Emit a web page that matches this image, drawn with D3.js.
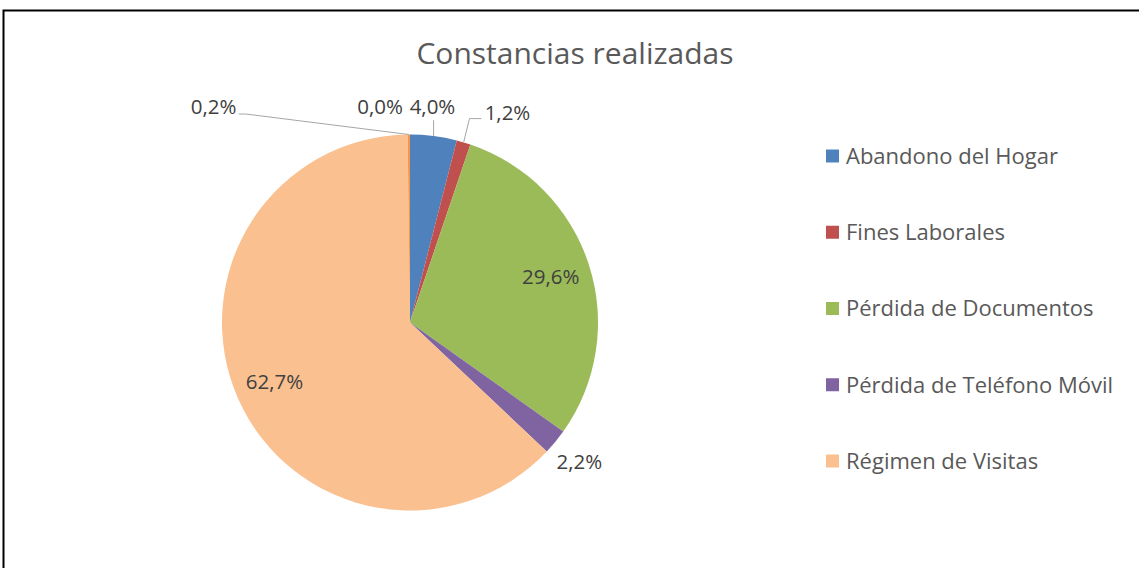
<!DOCTYPE html>
<html>
<head>
<meta charset="utf-8">
<script src="https://cdn.jsdelivr.net/npm/d3@7"></script>
<style>
  html, body { margin: 0; padding: 0; background: #fff; }
  svg { display: block; font-family: "Open Sans", "Noto Sans", sans-serif; }
</style>
</head>
<body>
<svg id="chart" width="1139" height="568"></svg>
<script>
// ---- data ----
const title = "Constancias realizadas";
const categories = ["", "Abandono del Hogar", "Fines Laborales", "Pérdida de Documentos",
                    "Pérdida de Teléfono Móvil", "Régimen de Visitas", " "];
const values = [0.0, 4.0, 1.2, 29.6, 2.2, 62.7, 0.2];
const valueLabels = ["0,0%", "4,0%", "1,2%", "29,6%", "2,2%", "62,7%", "0,2%"];
const legendCategories = ["Abandono del Hogar", "Fines Laborales", "Pérdida de Documentos",
                          "Pérdida de Teléfono Móvil", "Régimen de Visitas"];
const colors = ["#4F81BD", "#4F81BD", "#C0504D", "#9BBB59", "#8064A2", "#FAC08F", "#F79646"];

// ---- layout ----
const svg = d3.select("#chart");
const W = 1139, H = 568;
const cx = 410, cy = 322.5, R = 188;

svg.append("rect").attr("x", 0).attr("y", 0).attr("width", W).attr("height", H).attr("fill", "#fff");
svg.append("rect").attr("x", 3.5).attr("y", 10.5).attr("width", W + 20).attr("height", H + 20)
  .attr("fill", "none").attr("stroke", "#000").attr("stroke-width", 2);

svg.append("text").attr("x", 575).attr("y", 64).attr("text-anchor", "middle")
  .attr("font-size", 30).attr("fill", "#595959").text(title);

const data = categories.map((c, i) => ({ name: c, value: values[i], label: valueLabels[i], color: colors[i] }));
const pie = d3.pie().sort(null).value(d => d.value);
const arcs = pie(data);
const arc = d3.arc().innerRadius(0).outerRadius(R);

const g = svg.append("g").attr("transform", `translate(${cx},${cy})`);
g.selectAll("path.slice").data(arcs).join("path")
  .attr("class", "slice")
  .attr("d", arc)
  .attr("fill", d => d.data.color)
  .attr("stroke", "none");

// label placement: inside for large slices, outside for small ones
const mid = d => (d.startAngle + d.endAngle) / 2;
const pt = (a, r) => [r * Math.sin(a), -r * Math.cos(a)];
// nudges (layout only) for crowded outside labels, by index
const nudge = { 0: [-30, 3.5], 1: [-5, 2], 2: [35, 0], 4: [0, 0], 6: [-195, 3.5] };

const labelG = g.append("g");
arcs.forEach((d, i) => {
  const a = mid(d);
  const frac = d.data.value / d3.sum(values);
  let x, y;
  const inside = frac > 0.1;
  if (inside) {
    [x, y] = pt(a, 148);
  } else {
    [x, y] = pt(a, 219);
    const n = nudge[i] || [0, 0];
    x += n[0]; y += n[1];
  }
  labelG.append("text").attr("x", x).attr("y", y).attr("dy", "0.35em")
    .attr("text-anchor", "middle").attr("font-size", 20.5).attr("fill", "#404040")
    .text(d.data.label);

  // leader lines
  const [ax, ay] = pt(a, R);
  if (i === 1) {
    labelG.append("path").attr("d", `M${ax},${ay}L${ax},${y + 13}`)
      .attr("stroke", "#A6A6A6").attr("fill", "none");
  } else if (i === 2) {
    const lx = x - 26, ly = y + 6;
    labelG.append("path").attr("d", `M${ax},${ay}L${lx - 12},${ly}L${lx},${ly}`)
      .attr("stroke", "#A6A6A6").attr("fill", "none");
  } else if (i === 6) {
    const lx = x + 25, ly = y + 7;
    labelG.append("path").attr("d", `M${ax},${ay}L${lx + 7},${ly}L${lx},${ly}`)
      .attr("stroke", "#A6A6A6").attr("fill", "none");
  }
});

// legend
const legendY = d3.scalePoint().domain(legendCategories).range([156, 461]);
const lg = svg.append("g");
legendCategories.forEach(name => {
  const d = data.find(e => e.name === name);
  const y = legendY(name);
  lg.append("rect").attr("x", 826).attr("y", y - 6.5).attr("width", 13).attr("height", 13).attr("fill", d.color);
  lg.append("text").attr("x", 846).attr("y", y).attr("dy", "0.36em")
    .attr("font-size", 22).attr("fill", "#595959").text(name);
});
</script>
</body>
</html>
